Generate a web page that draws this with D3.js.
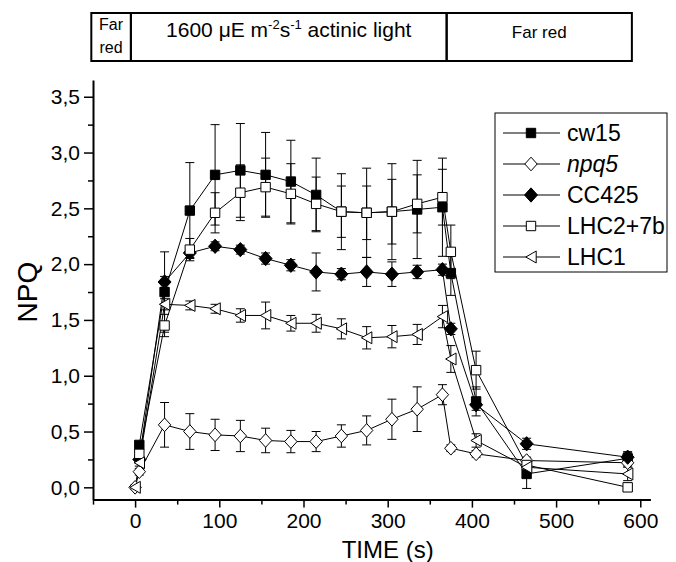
<!DOCTYPE html>
<html><head><meta charset="utf-8">
<script src="https://cdn.jsdelivr.net/npm/d3@7/dist/d3.min.js"></script>
<style>body{margin:0;background:#fff}svg{display:block;font-family:Arial,"Liberation Sans",sans-serif}</style>
</head><body><svg id="c" width="676" height="562"></svg>
<script>
// ---- data ----
const timesMain = [5,35,65,95,125,155,185,215,245,275,305,335,365,375,405,465,585];
const timesFull = [0,5,35,65,95,125,155,185,215,245,275,305,335,365,375,405,465,585];

const cw15     = [0.38,1.75,2.48,2.80,2.84,2.80,2.74,2.62,2.47,2.46,2.47,2.49,2.51,1.92,0.77,0.12,0.26];
const cw15Err  = [0.03,0.36,0.43,0.45,0.42,0.38,0.37,0.33,0.34,0.40,0.43,0.44,0.44,0.20,0.13,0.13,0.05];
const npq5     = [0.00,0.14,0.56,0.50,0.47,0.46,0.42,0.41,0.41,0.46,0.51,0.61,0.70,0.83,0.35,0.30,0.24,0.22];
const npq5Err  = [0.02,0.03,0.20,0.16,0.14,0.14,0.11,0.10,0.09,0.10,0.13,0.18,0.20,0.09,0.03,0.03,0.03,0.03];
const cc425    = [0.25,1.84,2.10,2.16,2.13,2.05,1.99,1.93,1.91,1.93,1.91,1.93,1.95,1.42,0.74,0.39,0.27];
const cc425Err = [0.03,0.05,0.04,0.04,0.04,0.05,0.05,0.17,0.05,0.13,0.11,0.06,0.05,0.05,0.05,0.05,0.05];
const lhc2     = [0.30,1.45,2.13,2.46,2.64,2.69,2.63,2.54,2.47,2.46,2.47,2.54,2.60,2.11,1.05,0.20,0.00];
const lhc2Err  = [0.03,0.10,0.10,0.18,0.25,0.26,0.27,0.24,0.23,0.24,0.29,0.26,0.25,0.24,0.17,0.05,0.03];
const lhc1     = [0.00,0.22,1.64,1.63,1.60,1.54,1.54,1.47,1.47,1.42,1.34,1.35,1.37,1.53,1.15,0.42,0.18,0.12];
const lhc1Err  = [0.02,0.03,0.05,0.04,0.04,0.06,0.12,0.07,0.08,0.09,0.10,0.10,0.09,0.10,0.12,0.06,0.05,0.06];

const seriesNames = ["cw15","npq5","CC425","LHC2+7b","LHC1"];
const xMajor = [0,100,200,300,400,500,600];
const xMinor = [-50,50,150,250,350,450,550];
const yMajor = [0,0.5,1,1.5,2,2.5,3,3.5];
const yMinor = [0.25,0.75,1.25,1.75,2.25,2.75,3.25];
const phaseBounds = [-52,-5,370,590];

// ---- scales ----
const x = d3.scaleLinear().domain([-50,612]).range([93,650.4]);
const y = d3.scaleLinear().domain([-0.11,3.65]).range([499.6,80]);

const svg = d3.select("#c");

// markers
function sq(s){return `M${-s},${-s}H${s}V${s}H${-s}Z`;}
function dia(s){return `M0,${-s*1.1}L${s},0L0,${s*1.1}L${-s},0Z`;}
function tri(s){return `M${-s},0L${s},${-s*1.15}L${s},${s*1.15}Z`;}
const series = [
  {name:"cw15", t:timesMain, v:cw15, e:cw15Err, path:sq(4.7), fill:"#000", italic:false},
  {name:"npq5", t:timesFull, v:npq5, e:npq5Err, path:dia(6.2), fill:"#fff", italic:true},
  {name:"CC425", t:timesMain, v:cc425, e:cc425Err, path:dia(6.5), fill:"#000", italic:false},
  {name:"LHC2+7b", t:timesMain, v:lhc2, e:lhc2Err, path:sq(4.7), fill:"#fff", italic:false},
  {name:"LHC1", t:timesFull, v:lhc1, e:lhc1Err, path:tri(5.2), fill:"#fff", italic:false}
];
series.forEach(s=>{s.pts=s.t.map((t,i)=>({t,v:s.v[i],e:s.e[i]}));});

// ---- header bar ----
const hdr = svg.append("g");
const hy0=13, hy1=61;
for(let i=0;i<phaseBounds.length-1;i++){
  hdr.append("rect").attr("x",x(phaseBounds[i])).attr("y",hy0)
    .attr("width",x(phaseBounds[i+1])-x(phaseBounds[i])).attr("height",hy1-hy0)
    .attr("fill","none").attr("stroke","#000").attr("stroke-width",2);
}
const c0=(x(phaseBounds[0])+x(phaseBounds[1]))/2;
hdr.append("text").attr("x",c0).attr("y",30).attr("text-anchor","middle").attr("font-size",16).text("Far");
hdr.append("text").attr("x",c0).attr("y",53).attr("text-anchor","middle").attr("font-size",16).text("red");
const c1=(x(phaseBounds[1])+x(phaseBounds[2]))/2;
const t1=hdr.append("text").attr("x",c1).attr("y",37).attr("text-anchor","middle").attr("font-size",21);
t1.append("tspan").text("1600 \u03BCE m");
t1.append("tspan").attr("dy",-8).attr("font-size",13).text("-2");
t1.append("tspan").attr("dy",8).text("s");
t1.append("tspan").attr("dy",-8).attr("font-size",13).text("-1");
t1.append("tspan").attr("dy",8).text(" actinic light");
const c2=(x(phaseBounds[2])+x(phaseBounds[3]))/2;
hdr.append("text").attr("x",c2).attr("y",38).attr("text-anchor","middle").attr("font-size",17).text("Far red");

// ---- axes ----
const fmt = d=>d3.format(".1f")(d).replace(".",",");
svg.append("g").attr("transform","translate(93,0)")
  .call(d3.axisLeft(y).tickValues(yMajor).tickSize(9).tickSizeOuter(0).tickPadding(4).tickFormat(fmt));
svg.append("g").attr("transform","translate(93,0)")
  .call(d3.axisLeft(y).tickValues(yMinor).tickSize(5).tickSizeOuter(0).tickFormat(""))
  .select(".domain").remove();
svg.append("g").attr("transform","translate(0,499.6)")
  .call(d3.axisBottom(x).tickValues(xMajor).tickSize(8).tickSizeOuter(0).tickPadding(5).tickFormat(d3.format("d")));
svg.append("g").attr("transform","translate(0,499.6)")
  .call(d3.axisBottom(x).tickValues(xMinor).tickSize(5).tickSizeOuter(0).tickFormat(""))
  .select(".domain").remove();
svg.selectAll(".domain").attr("stroke-width",2).attr("stroke","#000");
svg.selectAll(".tick line").attr("stroke","#000").attr("stroke-width",1.5);
svg.selectAll(".tick text").attr("font-size",21).attr("fill","#000").attr("font-family","Arial,'Liberation Sans',sans-serif");

svg.append("text").attr("transform",`translate(37,${y(1.75)}) rotate(-90)`).attr("text-anchor","middle")
  .attr("font-size",28).text("NPQ");
svg.append("text").attr("x",x(300)).attr("y",558).attr("text-anchor","middle").attr("font-size",24).text("TIME (s)");

// ---- data marks ----
const line = d3.line().x(d=>x(d.t)).y(d=>y(d.v));
const plot = svg.append("g");
series.forEach(s=>{
  plot.append("path").attr("d",line(s.pts)).attr("fill","none").attr("stroke","#000").attr("stroke-width",1);
});
series.forEach(s=>{
  const g=plot.append("g").attr("stroke","#000").attr("stroke-width",1).attr("fill","none");
  s.pts.forEach(p=>{
    const cx=x(p.t), top=y(p.v+p.e), bot=y(p.v-p.e);
    g.append("line").attr("x1",cx).attr("x2",cx).attr("y1",top).attr("y2",bot);
    g.append("line").attr("x1",cx-4.5).attr("x2",cx+4.5).attr("y1",top).attr("y2",top);
    g.append("line").attr("x1",cx-4.5).attr("x2",cx+4.5).attr("y1",bot).attr("y2",bot);
  });
});
series.forEach(s=>{
  plot.append("g").selectAll("path").data(s.pts).join("path")
    .attr("transform",d=>`translate(${x(d.t)},${y(d.v)})`)
    .attr("d",s.path).attr("fill",s.fill).attr("stroke","#000").attr("stroke-width",1);
});

// ---- legend ----
const lg = svg.append("g");
lg.append("rect").attr("x",495).attr("y",113).attr("width",172).attr("height",159)
  .attr("fill","#fff").attr("stroke","#000").attr("stroke-width",1);
series.forEach((s,i)=>{
  const ly=133+i*31;
  lg.append("line").attr("x1",503).attr("x2",560).attr("y1",ly).attr("y2",ly).attr("stroke","#000").attr("stroke-width",1);
  lg.append("path").attr("transform",`translate(531,${ly})`).attr("d",s.path).attr("fill",s.fill).attr("stroke","#000").attr("stroke-width",1);
  lg.append("text").attr("x",567).attr("y",ly+8).attr("font-size",23)
    .attr("font-style",s.italic?"italic":"normal").text(seriesNames[i]);
});
</script></body></html>
